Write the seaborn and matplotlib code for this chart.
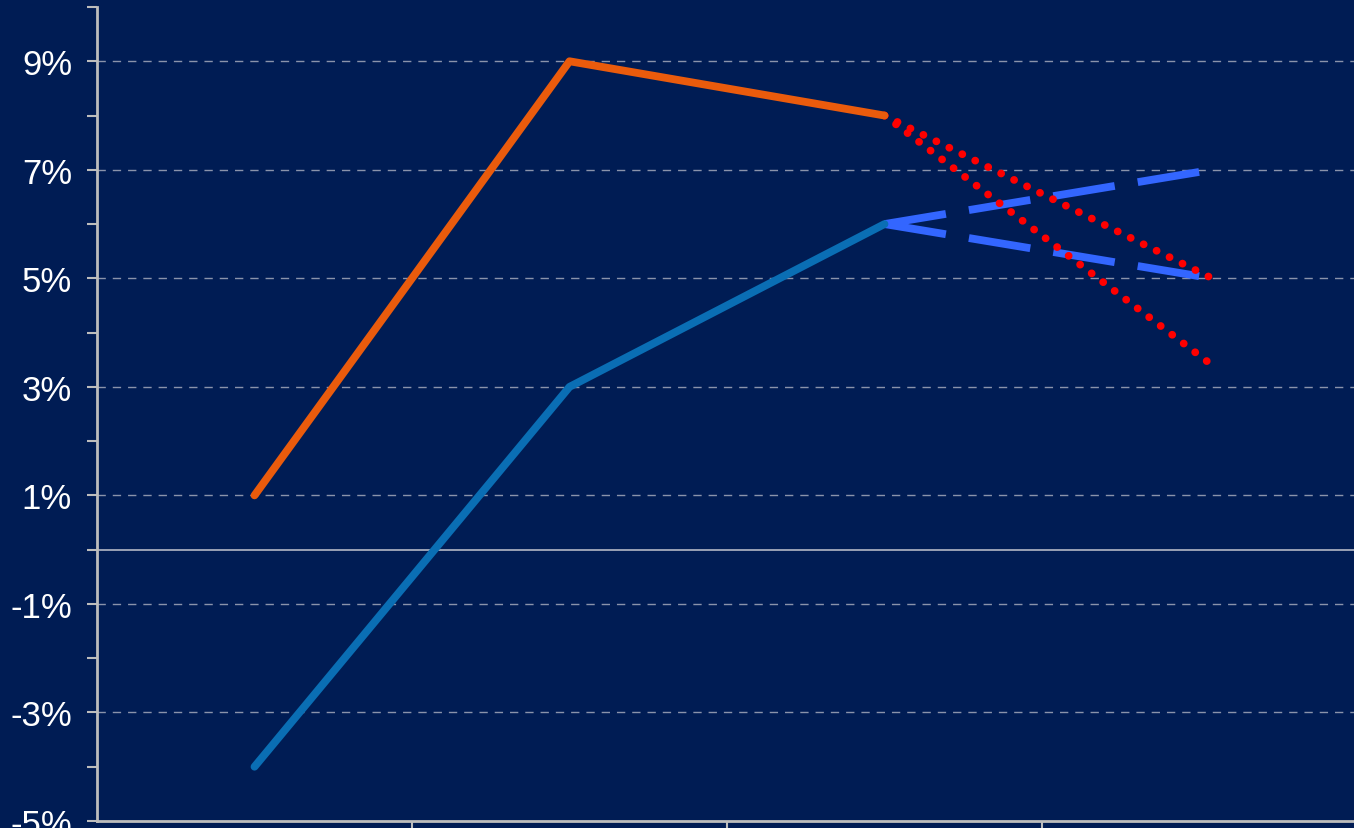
import numpy as np
import pandas as pd
import matplotlib
matplotlib.use('Agg')
import matplotlib.pyplot as plt
import seaborn as sns

# --- data (percent) ---
periods = [0, 1, 2]                 # category slots
orange_vals = [1, 9, 8]
blue_vals = [-4, 3, 6]

fc_x = [2, 3.04]                    # forecast runs from last actual to next slot
red_high = [8, 5]
red_low = [8, 3.4]
blue_high = [6, 7]
blue_low = [6, 5]

y_major = [-5, -3, -1, 1, 3, 5, 7, 9]
y_labels = ['-5%', '-3%', '-1%', '1%', '3%', '5%', '7%', '9%']

BG = '#001C54'
AXC = '#BDBDBD'
ORANGE = '#EA5B0C'
BLUE = '#0A6EB4'
BRIGHT = '#3366FF'
RED = '#FF0000'

sns.set_theme(style='dark', rc={'axes.facecolor': BG, 'figure.facecolor': BG})
plt.rcParams['font.family'] = ['Liberation Sans', 'DejaVu Sans']

fig = plt.figure(figsize=(13.54, 8.29), dpi=100)
ax = fig.add_axes([97/1354, 7/829, 1260/1354, 814/829])
ax.set_facecolor(BG)

hist = pd.DataFrame({'x': periods, 'orange': orange_vals, 'blue': blue_vals})
fc = pd.DataFrame({'x': fc_x, 'rh': red_high, 'rl': red_low, 'bh': blue_high, 'bl': blue_low})

# grid + zero line
for v in y_major[1:]:
    ax.axhline(v, color='#8A93AB', lw=1, ls=(0, (6, 5)), zorder=1)
ax.axhline(0, color='#9AA1B5', lw=1.4, zorder=1)

LW = 5.6
sns.lineplot(data=fc, x='x', y='bh', ax=ax, color=BRIGHT, lw=LW, ls=(0, (8, 3)),
             dash_capstyle='butt', zorder=3)
sns.lineplot(data=fc, x='x', y='bl', ax=ax, color=BRIGHT, lw=LW, ls=(0, (8, 3)),
             dash_capstyle='butt', zorder=3)
sns.lineplot(data=fc, x='x', y='rh', ax=ax, color=RED, lw=LW, ls=(0, (0.01, 1.85)),
             dash_capstyle='round', zorder=4)
sns.lineplot(data=fc, x='x', y='rl', ax=ax, color=RED, lw=LW, ls=(0, (0.01, 1.85)),
             dash_capstyle='round', zorder=4)
sns.lineplot(data=hist, x='x', y='orange', ax=ax, color=ORANGE, lw=LW,
             solid_capstyle='round', zorder=5)
sns.lineplot(data=hist, x='x', y='blue', ax=ax, color=BLUE, lw=LW,
             solid_capstyle='round', zorder=5)

ax.set_xlim(-0.5, 3.5)
ax.set_ylim(-5, 10)
ax.set_xticks([0.5, 1.5, 2.5])
ax.set_xticklabels([])
ax.set_yticks(y_major)
ax.set_yticklabels(y_labels)
ax.set_yticks(np.arange(-4, 11, 2), minor=True)
ax.set_xlabel('')
ax.set_ylabel('')
ax.grid(False)

for s in ['top', 'right']:
    ax.spines[s].set_visible(False)
for s in ['left', 'bottom']:
    ax.spines[s].set_color(AXC)
    ax.spines[s].set_linewidth(2)

ax.tick_params(axis='y', which='both', direction='out', length=7, width=1.5,
               color=AXC, labelcolor='white', labelsize=25, pad=11, left=True)
ax.tick_params(axis='x', which='major', direction='out', length=7, width=1.5,
               color=AXC, bottom=True)

fig.savefig('out.png', dpi=100, facecolor=BG)
